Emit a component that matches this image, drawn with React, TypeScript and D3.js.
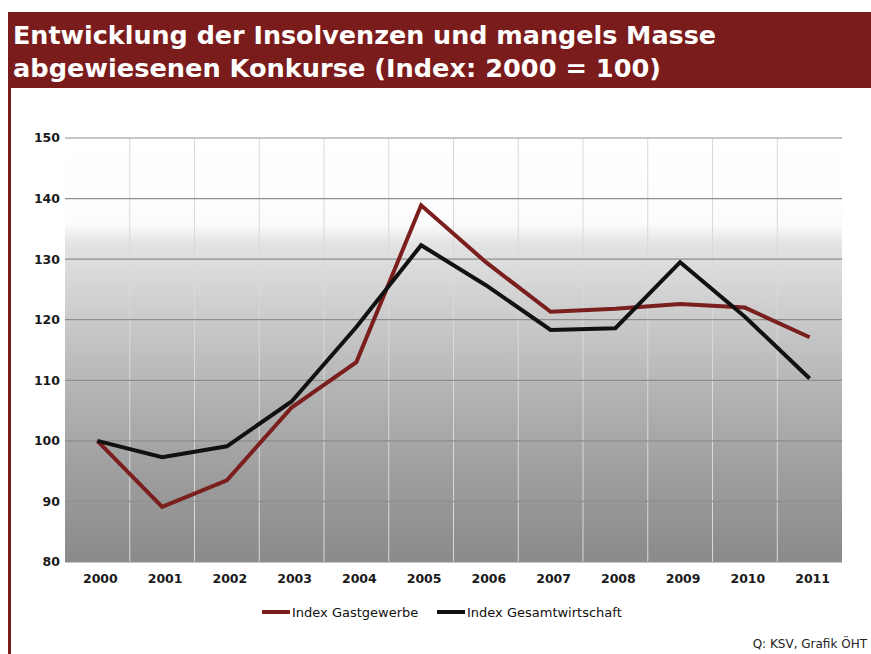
import React, {useRef, useEffect} from 'react';
import * as d3 from 'd3';

const W = 871;
const H = 654;

const years = ['2000', '2001', '2002', '2003', '2004', '2005', '2006', '2007', '2008', '2009', '2010', '2011'];
const gastgewerbe = [100, 89.1, 93.5, 105.5, 113, 138.9, 129.5, 121.3, 121.8, 122.6, 122, 117.1];
const gesamtwirtschaft = [100, 97.3, 99.1, 106.5, 118.8, 132.3, 125.7, 118.3, 118.6, 129.5, 120.5, 110.3];
const yTicks = [80, 90, 100, 110, 120, 130, 140, 150];
const titleLines = ['Entwicklung der Insolvenzen und mangels Masse', 'abgewiesenen Konkurse (Index: 2000 = 100)'];
const series = [
  {name: 'Index Gastgewerbe', values: gastgewerbe, color: '#7a1e1e'},
  {name: 'Index Gesamtwirtschaft', values: gesamtwirtschaft, color: '#111111'},
];

const plot = {left: 65, right: 842, top: 138, bottom: 562};
const font = '"DejaVu Sans", Verdana, sans-serif';

const draw = (node: SVGSVGElement) => {
  const svg = d3.select(node);
  svg.selectAll('*').remove();

  const x = d3.scaleBand<string>().domain(years).range([plot.left, plot.right]);
  const y = d3.scaleLinear().domain([80, 150]).range([plot.bottom, plot.top]);
  const cx = (d: string) => (x(d) as number) + x.bandwidth() / 2;

  svg.append('rect').attr('width', W).attr('height', H).attr('fill', '#fff');

  // title bar + left border
  svg.append('rect').attr('x', 8).attr('y', 12).attr('width', W - 8).attr('height', 76).attr('fill', '#7b1c1c');
  svg.append('rect').attr('x', 8).attr('y', 88).attr('width', 3).attr('height', H - 88).attr('fill', '#7b1c1c');
  svg
  .append('g')
  .selectAll('text')
  .data(titleLines)
  .enter()
  .append('text')
  .attr('x', 13)
  .attr('y', (d, i) => 44 + i * 33)
  .attr('fill', '#fff')
  .attr('font-family', font)
  .attr('font-weight', 'bold')
  .attr('font-size', 24)
  .attr('textLength', (d, i) => (i === 0 ? 703 : 648))
  .attr('lengthAdjust', 'spacingAndGlyphs')
  .text(d => d);

  // plot background: white top, greying towards the bottom
  const grad = svg
  .append('defs')
  .append('linearGradient')
  .attr('id', 'bg')
  .attr('x1', 0)
  .attr('y1', 0)
  .attr('x2', 0)
  .attr('y2', 1);
  [
    [0, '#ffffff'],
    [0.2, '#fcfcfc'],
    [0.25, '#e3e3e3'],
    [0.4, '#cecece'],
    [0.6, '#b3b3b3'],
    [0.8, '#9d9d9d'],
    [1, '#8a8a8a'],
  ].forEach(([o, c]) => grad.append('stop').attr('offset', o as number).attr('stop-color', c as string));
  svg
  .append('rect')
  .attr('x', plot.left)
  .attr('y', plot.top)
  .attr('width', plot.right - plot.left)
  .attr('height', plot.bottom - plot.top)
  .attr('fill', 'url(#bg)');

  // vertical grid
  svg
  .append('g')
  .selectAll('line')
  .data(years.slice(1))
  .enter()
  .append('line')
  .attr('x1', d => x(d) as number)
  .attr('x2', d => x(d) as number)
  .attr('y1', plot.top)
  .attr('y2', plot.bottom)
  .attr('stroke', '#d9d9d9')
  .attr('stroke-width', 1);

  // horizontal grid
  svg
  .append('g')
  .selectAll('line')
  .data(yTicks)
  .enter()
  .append('line')
  .attr('x1', plot.left)
  .attr('x2', plot.right)
  .attr('y1', d => y(d))
  .attr('y2', d => y(d))
  .attr('stroke', '#8e8e8e')
  .attr('stroke-width', 1.2);

  // y labels
  svg
  .append('g')
  .selectAll('text')
  .data(yTicks)
  .enter()
  .append('text')
  .attr('x', 60)
  .attr('y', d => y(d))
  .attr('dy', '0.35em')
  .attr('text-anchor', 'end')
  .attr('font-family', font)
  .attr('font-weight', 'bold')
  .attr('font-size', 12.5)
  .attr('fill', '#1a1a1a')
  .text(d => d);

  // x labels
  svg
  .append('g')
  .selectAll('text')
  .data(years)
  .enter()
  .append('text')
  .attr('x', d => cx(d) + 3)
  .attr('y', 583)
  .attr('text-anchor', 'middle')
  .attr('font-family', font)
  .attr('font-weight', 'bold')
  .attr('font-size', 12.5)
  .attr('fill', '#1a1a1a')
  .text(d => d);

  // lines
  const line = d3
  .line<number>()
  .x((d, i) => cx(years[i]))
  .y(d => y(d));
  svg
  .append('g')
  .selectAll('path')
  .data(series)
  .enter()
  .append('path')
  .attr('d', d => line(d.values))
  .attr('fill', 'none')
  .attr('stroke', d => d.color)
  .attr('stroke-width', 4)
  .attr('stroke-linejoin', 'miter');

  // legend
  const legendX = [262, 437];
  const lg = svg
  .append('g')
  .selectAll('g')
  .data(series)
  .enter()
  .append('g')
  .attr('transform', (d, i) => `translate(${legendX[i]}, 612)`);
  lg.append('line').attr('x1', 0).attr('x2', 28).attr('stroke', d => d.color).attr('stroke-width', 4);
  lg
  .append('text')
  .attr('x', 30)
  .attr('dy', '0.35em')
  .attr('font-family', font)
  .attr('font-size', 13)
  .attr('fill', '#111')
  .text(d => d.name);

  svg
  .append('text')
  .attr('x', 867)
  .attr('y', 648)
  .attr('text-anchor', 'end')
  .attr('font-family', font)
  .attr('font-size', 12)
  .attr('fill', '#222')
  .text('Q: KSV, Grafik ÖHT');
};

export default function App() {
  const ref = useRef<SVGSVGElement>(null);
  useEffect(() => {
    if (ref.current) draw(ref.current);
  }, []);
  return (
    <div style={{position: 'absolute', left: 0, top: 0}}>
      <svg ref={ref} width={W} height={H} style={{display: 'block'}} />
    </div>
  );
}
